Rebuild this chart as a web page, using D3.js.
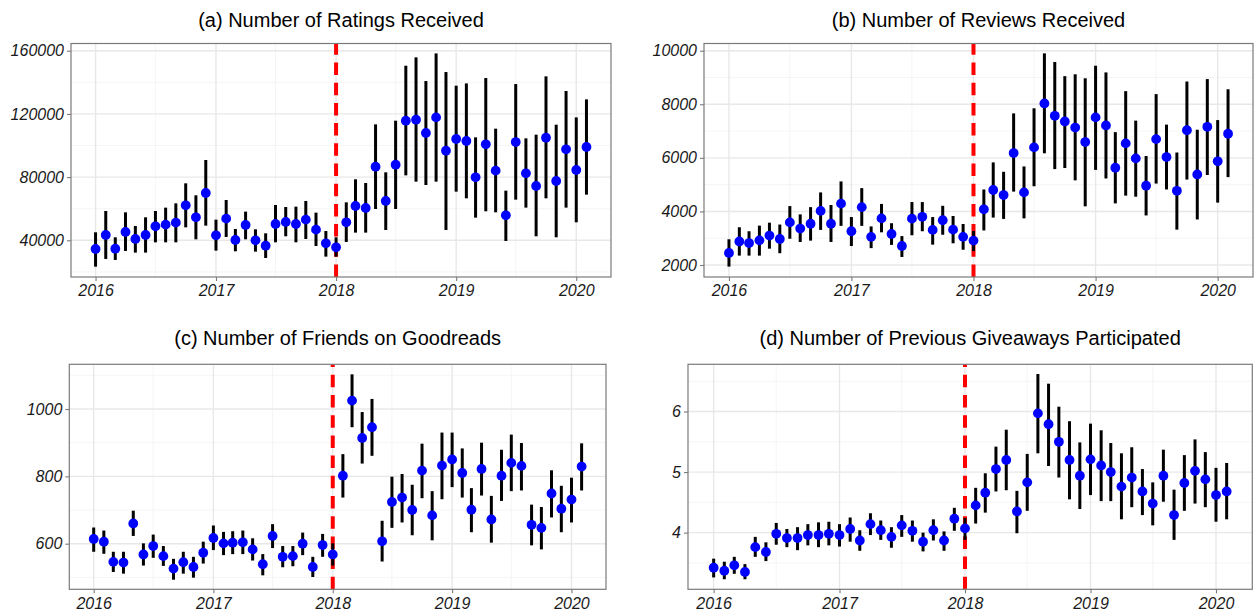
<!DOCTYPE html>
<html>
<head>
<meta charset="utf-8">
<script src="https://cdn.jsdelivr.net/npm/d3@7"></script>
<style>
  html, body { margin: 0; padding: 0; background: #fff; }
  svg { display: block; }
</style>
</head>
<body>
<svg id="chart" width="1255" height="614"></svg>
<script>
// ---------------- DATA ----------------
const months = [
  "2016-01","2016-02","2016-03","2016-04","2016-05","2016-06","2016-07","2016-08","2016-09","2016-10","2016-11","2016-12",
  "2017-01","2017-02","2017-03","2017-04","2017-05","2017-06","2017-07","2017-08","2017-09","2017-10","2017-11","2017-12",
  "2018-01","2018-02","2018-03","2018-04","2018-05","2018-06","2018-07","2018-08","2018-09","2018-10","2018-11","2018-12",
  "2019-01","2019-02","2019-03","2019-04","2019-05","2019-06","2019-07","2019-08","2019-09","2019-10","2019-11","2019-12",
  "2020-01","2020-02"
];
const yearTicks = ["2016","2017","2018","2019","2020"];
const cutoffMonth = "2018-01";

// (a) Number of Ratings Received
const ratingsMean = [34500,43400,34700,45300,40840,43400,48860,49900,51180,62140,54550,69950,
  43160,53700,40200,49700,40000,36600,50330,51600,50330,53080,46750,38100,
  35570,51390,61720,60460,86600,64890,87870,115700,116350,107900,117800,96730,
  104100,102850,79860,100740,84080,55800,102200,82390,74380,104960,77540,97580,
  84500,99050];
const ratingsLow = [23300,28190,27560,33250,32200,32200,38700,38700,38700,48200,40630,49280,
  33460,42100,33040,40630,32830,28820,38730,42530,38730,40840,36400,29660,
  29660,38950,44850,44850,59820,46540,59820,81100,77120,75000,77120,46540,
  70800,66570,54340,58350,57700,39580,65730,60670,42530,66570,41900,60670,
  51390,68900];
const ratingsHigh = [45060,58560,41900,57700,49070,54550,58560,60670,63400,76060,68470,90830,
  53080,65500,47170,58140,46960,44430,62350,61090,61300,64900,57500,45900,
  41900,64040,78600,76280,113390,83020,115710,150500,155800,140800,158300,146500,
  137860,139300,105170,142700,110650,71420,138900,104540,106850,143760,113180,134480,
  117800,129200];
const ratingsTicks = [40000,80000,120000,160000];

// (b) Number of Reviews Received
const reviewsMean = [2450,2880,2820,2920,3100,2970,3590,3360,3540,4020,3540,4290,
  3260,4160,3050,3740,3160,2710,3730,3800,3310,3670,3320,3050,
  2910,4080,4800,4610,6180,4710,6390,8030,7570,7360,7130,6590,
  7510,7210,5630,6540,5980,4960,6700,6030,4770,7030,5380,7160,
  5870,6900];
const reviewsLow = [1940,2350,2350,2350,2610,2440,2980,2860,2910,3310,2860,3460,
  2710,3460,2630,3220,2750,2300,3110,3260,2760,3130,2810,2570,
  2520,3290,3770,3720,4740,3740,4940,6170,5580,5620,5160,4190,
  5550,5230,4300,4590,4550,3850,5040,4820,3320,5190,3700,5360,
  4330,5280];
const reviewsHigh = [2960,3410,3260,3470,3580,3510,4200,3890,4160,4710,4240,5120,
  3790,4870,3440,4280,3560,3080,4350,4350,3790,4210,3830,3530,
  3270,4820,5830,5480,7660,5680,7850,9900,9580,9050,9120,8970,
  9440,9190,6960,8490,7390,6070,8380,7240,6200,8850,7050,8940,
  7410,8560];
const reviewsTicks = [2000,4000,6000,8000,10000];

// (c) Number of Friends on Goodreads
const friendsMean = [614,606,546,544,660,568,593,563,526,545,531,573,
  617,601,603,604,583,539,623,561,563,600,531,596,
  568,802,1025,914,946,607,724,737,700,817,684,832,
  850,810,701,822,672,802,840,831,656,647,749,704,
  731,829];
const friendsLow = [576,570,516,511,623,535,558,534,493,511,499,541,
  581,566,569,569,550,506,587,530,533,566,501,561,
  535,737,946,838,861,547,647,663,625,735,610,732,
  768,737,634,743,603,727,756,758,595,583,678,634,
  663,758];
const friendsHigh = [648,639,576,576,698,601,627,593,555,576,561,606,
  654,635,637,639,616,569,658,593,593,633,561,629,
  601,866,1103,991,1030,668,799,807,775,897,756,930,
  930,883,765,900,742,879,924,899,716,709,818,772,
  796,898];
const friendsTicks = [600,800,1000];

// (d) Number of Previous Giveaways Participated
const giveawaysMean = [3.42,3.37,3.46,3.35,3.76,3.68,3.98,3.91,3.91,3.96,3.96,3.98,
  3.96,4.06,3.87,4.14,4.04,3.93,4.12,4.03,3.85,4.04,3.87,4.23,
  4.07,4.45,4.66,5.05,5.20,4.35,4.83,5.97,5.79,5.50,5.20,4.94,
  5.21,5.11,5.00,4.76,4.91,4.68,4.48,4.94,4.29,4.82,5.02,4.88,
  4.62,4.68];
const giveawaysLow = [3.26,3.23,3.32,3.23,3.60,3.53,3.80,3.76,3.71,3.79,3.76,3.79,
  3.77,3.85,3.70,3.96,3.88,3.75,3.93,3.85,3.69,3.87,3.70,4.03,
  3.88,4.15,4.33,4.68,4.70,3.99,4.36,5.31,5.10,4.91,4.55,4.39,
  4.62,4.52,4.52,4.22,4.42,4.29,4.12,4.51,3.88,4.36,4.48,4.42,
  4.18,4.22];
const giveawaysHigh = [3.57,3.52,3.60,3.48,3.93,3.84,4.16,4.06,4.09,4.14,4.17,4.18,
  4.14,4.25,4.04,4.32,4.20,4.09,4.29,4.20,4.00,4.22,4.02,4.41,
  4.24,4.74,4.98,5.42,5.70,4.69,5.30,6.62,6.46,6.08,5.84,5.49,
  5.80,5.69,5.48,5.31,5.41,5.05,4.83,5.37,4.71,5.28,5.54,5.33,
  5.07,5.15];
const giveawaysTicks = [4,5,6];

const titles = [
  "(a) Number of Ratings Received",
  "(b) Number of Reviews Received",
  "(c) Number of Friends on Goodreads",
  "(d) Number of Previous Giveaways Participated"
];

// ---------------- LAYOUT ----------------
const panels = [
  { title: titles[0], mean: ratingsMean, low: ratingsLow, high: ratingsHigh, ticks: ratingsTicks,
    box: {l: 71, r: 611, t: 43.5, b: 277}, ydom: [16770, 164560], titleY: 27 },
  { title: titles[1], mean: reviewsMean, low: reviewsLow, high: reviewsHigh, ticks: reviewsTicks,
    box: {l: 704, r: 1253, t: 43.5, b: 277}, ydom: [1552, 10269], titleY: 27 },
  { title: titles[2], mean: friendsMean, low: friendsLow, high: friendsHigh, ticks: friendsTicks,
    box: {l: 69.3, r: 606, t: 364.3, b: 589.3}, ydom: [464.5, 1132.8], titleY: 345 },
  { title: titles[3], mean: giveawaysMean, low: giveawaysLow, high: giveawaysHigh, ticks: giveawaysTicks,
    box: {l: 688, r: 1252.3, t: 364.3, b: 589.3}, ydom: [3.064, 6.78], titleY: 345 }
];

const parseMonth = d3.timeParse("%Y-%m");
const parseYear = d3.timeParse("%Y");
const dates = months.map(parseMonth);
const first = dates[0], last = dates[dates.length - 1];
const spanDays = (last - first) / 86400000;
const pad = spanDays * 0.05;
const xDomain = [d3.timeHour.offset(first, -pad * 24), d3.timeHour.offset(last, pad * 24)];
const yearDates = yearTicks.map(parseYear);
const minorX = yearTicks.slice(0, 4).map(y => parseMonth(y + "-07"));
const cutoff = parseMonth(cutoffMonth);

const svg = d3.select("#chart");
const FONT = "'Liberation Sans', Arial, Helvetica, sans-serif";

panels.forEach(p => {
  const B = p.box;
  const x = d3.scaleTime().domain(xDomain).range([B.l, B.r]);
  const y = d3.scaleLinear().domain(p.ydom).range([B.b, B.t]);
  const g = svg.append("g");

  // minor y grid: midpoints between major ticks (and beyond)
  const step = p.ticks[1] - p.ticks[0];
  const minorY = [];
  for (let v = p.ticks[0] - step / 2; v <= p.ydom[1]; v += step) {
    if (v >= p.ydom[0]) minorY.push(v);
  }
  g.selectAll(".minory").data(minorY).join("line")
    .attr("x1", B.l).attr("x2", B.r)
    .attr("y1", d => y(d)).attr("y2", d => y(d))
    .attr("stroke", "#f2f2f2").attr("stroke-width", 0.8);
  g.selectAll(".minorx").data(minorX).join("line")
    .attr("y1", B.t).attr("y2", B.b)
    .attr("x1", d => x(d)).attr("x2", d => x(d))
    .attr("stroke", "#f2f2f2").attr("stroke-width", 0.8);
  // major grid
  g.selectAll(".majory").data(p.ticks).join("line")
    .attr("x1", B.l).attr("x2", B.r)
    .attr("y1", d => y(d)).attr("y2", d => y(d))
    .attr("stroke", "#e8e8e8").attr("stroke-width", 1.4);
  g.selectAll(".majorx").data(yearDates).join("line")
    .attr("y1", B.t).attr("y2", B.b)
    .attr("x1", d => x(d)).attr("x2", d => x(d))
    .attr("stroke", "#e8e8e8").attr("stroke-width", 1.4);

  // cutoff dashed line (drawn bottom to top)
  g.append("line")
    .attr("x1", x(cutoff)).attr("x2", x(cutoff))
    .attr("y1", B.b).attr("y2", B.t)
    .attr("stroke", "#ff0000").attr("stroke-width", 4)
    .attr("stroke-dasharray", "12.5,7.7");

  // error bars
  g.selectAll(".err").data(dates).join("line")
    .attr("x1", d => x(d)).attr("x2", d => x(d))
    .attr("y1", (d, i) => y(p.low[i])).attr("y2", (d, i) => y(p.high[i]))
    .attr("stroke", "#000").attr("stroke-width", 3);
  // points
  g.selectAll(".pt").data(dates).join("circle")
    .attr("cx", d => x(d)).attr("cy", (d, i) => y(p.mean[i]))
    .attr("r", 4.9).attr("fill", "#0000ff");

  // border
  g.append("rect")
    .attr("x", B.l).attr("y", B.t).attr("width", B.r - B.l).attr("height", B.b - B.t)
    .attr("fill", "none").attr("stroke", "#7a7a7a").attr("stroke-width", 1.2);

  // axes
  const yAxis = d3.axisLeft(y).tickValues(p.ticks).tickSize(4).tickPadding(3).tickFormat(d3.format("d"));
  const ya = g.append("g").attr("transform", `translate(${B.l},0)`).call(yAxis);
  const xAxis = d3.axisBottom(x).tickValues(yearDates).tickSize(4).tickPadding(4).tickFormat(d3.timeFormat("%Y"));
  const xa = g.append("g").attr("transform", `translate(0,${B.b})`).call(xAxis);
  [ya, xa].forEach(a => {
    a.select(".domain").remove();
    a.selectAll(".tick line").attr("stroke", "#7a7a7a").attr("stroke-width", 1.1);
    a.selectAll(".tick text")
      .attr("fill", "#1a1a1a")
      .style("font-family", FONT).style("font-size", "16px").style("font-style", "italic");
  });

  // title
  svg.append("text")
    .attr("x", (B.l + B.r) / 2).attr("y", p.titleY)
    .attr("text-anchor", "middle")
    .style("font-family", FONT).style("font-size", "20px").attr("fill", "#000")
    .text(p.title);
});
</script>
</body>
</html>
